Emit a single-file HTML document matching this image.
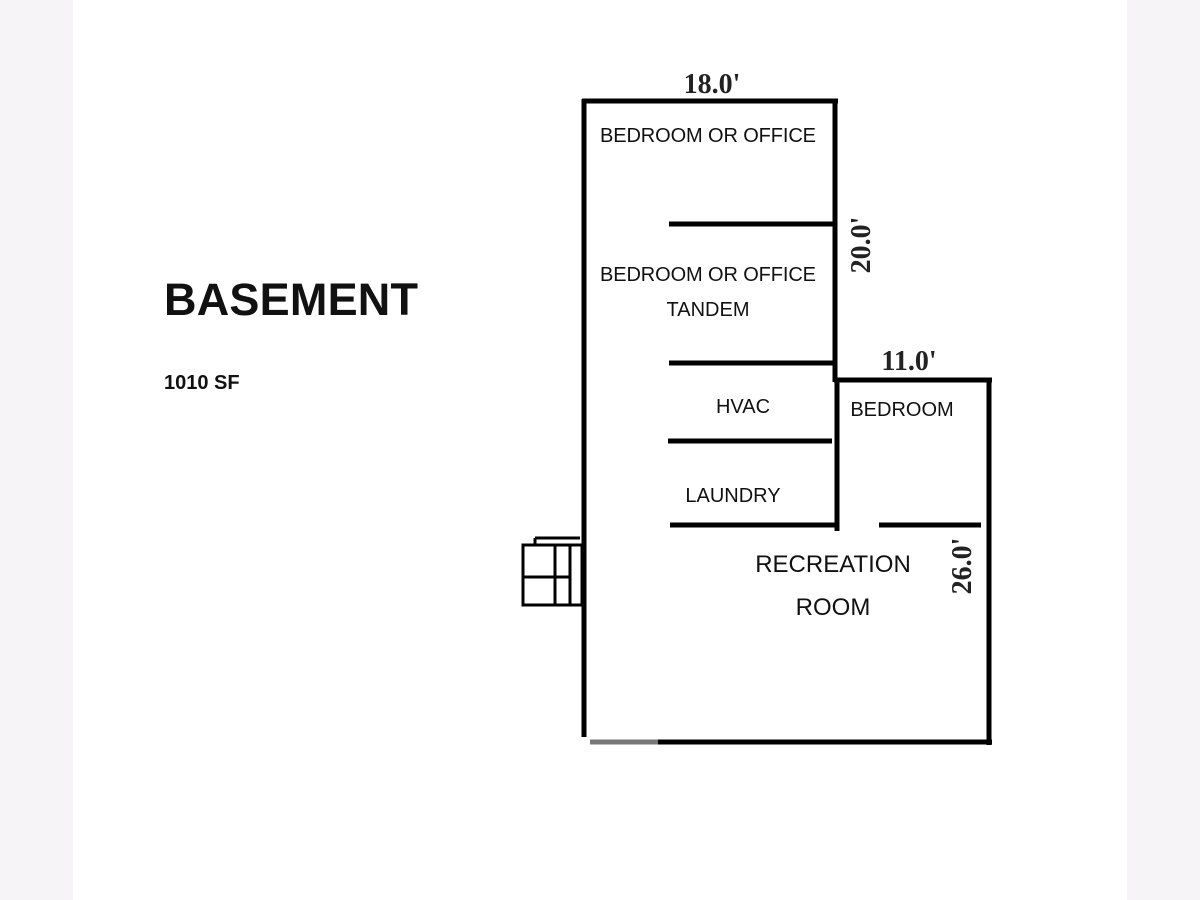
<!DOCTYPE html>
<html><head><meta charset="utf-8"><style>
html,body{margin:0;padding:0;background:#fff;}
svg{display:block;}
</style></head><body>
<svg width="1200" height="900" viewBox="0 0 1200 900" xmlns="http://www.w3.org/2000/svg">
<rect width="1200" height="900" fill="#fff"/>
<rect x="0" y="0" width="73" height="900" fill="#f7f4f7"/>
<rect x="1127" y="0" width="73" height="900" fill="#f7f4f7"/>
<g fill="none" stroke="#000" stroke-width="5">
<line x1="582" y1="101" x2="838" y2="101"/>
<line x1="584" y1="99" x2="584" y2="737"/>
<line x1="835" y1="99" x2="835" y2="382"/>
<line x1="837" y1="378" x2="837" y2="531"/>
<line x1="834" y1="380" x2="992" y2="380"/>
<line x1="989" y1="378" x2="989" y2="745"/>
<line x1="658" y1="742" x2="992" y2="742"/>
<line x1="669" y1="224" x2="835" y2="224"/>
<line x1="669" y1="363" x2="835" y2="363"/>
<line x1="668" y1="441" x2="832" y2="441"/>
<line x1="670" y1="525" x2="835" y2="525"/>
<line x1="879" y1="525" x2="981" y2="525"/>
</g>
<line x1="590" y1="742" x2="658" y2="742" stroke="#777" stroke-width="5"/>
<g fill="none" stroke="#000" stroke-width="3">
<rect x="523" y="545" width="59" height="60"/>
<line x1="535" y1="538" x2="580" y2="538"/>
<line x1="535" y1="538" x2="535" y2="545"/>
<line x1="555" y1="545" x2="555" y2="605"/>
<line x1="570" y1="545" x2="570" y2="605"/>
<line x1="523" y1="577" x2="570" y2="577"/>
</g>
<g font-family="'Liberation Sans',sans-serif" fill="#111" font-size="20" text-anchor="middle">
<text x="708" y="142" textLength="216">BEDROOM OR OFFICE</text>
<text x="708" y="281" textLength="216">BEDROOM OR OFFICE</text>
<text x="708" y="316">TANDEM</text>
<text x="743" y="413">HVAC</text>
<text x="733" y="502">LAUNDRY</text>
<text x="902" y="416">BEDROOM</text>
<text x="833" y="572" font-size="24">RECREATION</text>
<text x="833" y="615" font-size="24">ROOM</text>
</g>
<g font-family="'Liberation Serif',serif" fill="#222" font-size="28" font-weight="bold" text-anchor="middle">
<text x="712" y="93">18.0'</text>
<text x="909" y="370">11.0'</text>
<text transform="translate(870,245) rotate(-90)">20.0'</text>
<text transform="translate(971,566) rotate(-90)">26.0'</text>
</g>
<text x="164" y="315" font-family="'Liberation Sans',sans-serif" font-weight="bold" font-size="45" fill="#111" textLength="254">BASEMENT</text>
<text x="164" y="389" font-family="'Liberation Sans',sans-serif" font-weight="bold" font-size="20" fill="#111">1010 SF</text>
</svg>
</body></html>
